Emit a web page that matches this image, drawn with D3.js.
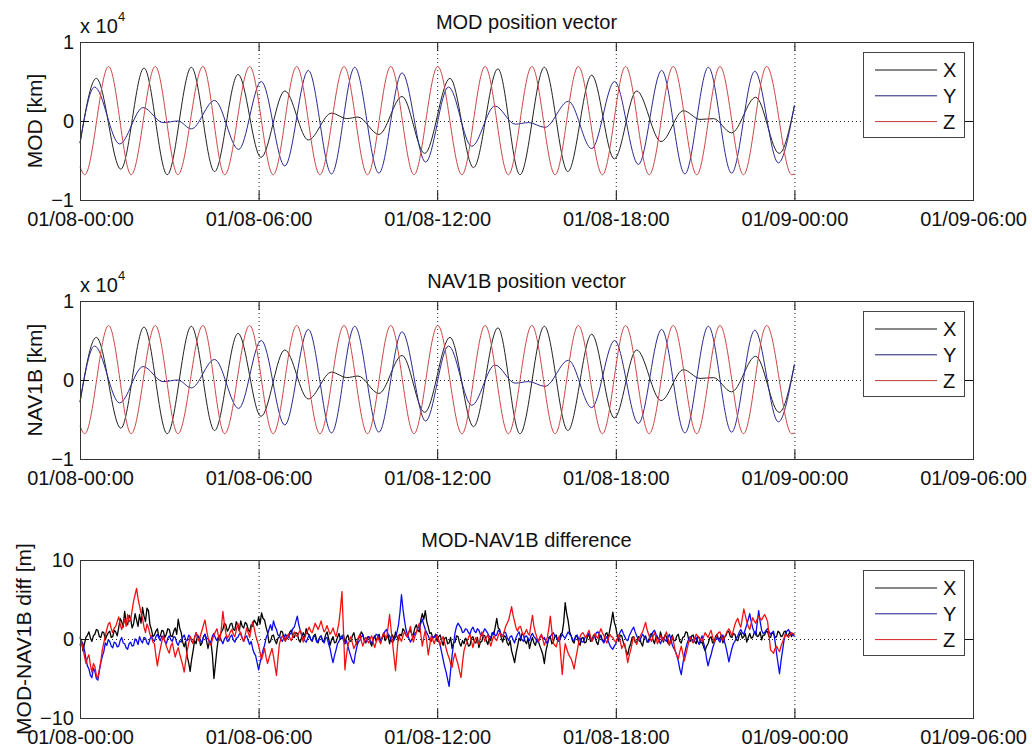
<!DOCTYPE html>
<head>
  <meta charset="utf-8">
  <title>MOD vs NAV1B position</title>
  <script src="https://cdn.jsdelivr.net/npm/d3@7/dist/d3.min.js"></script>
</head>

<style>
  body {
    margin: 0;
    background: #fff;
  }

  svg {
    font-family: "Liberation Sans", Arial, Helvetica, sans-serif;
  }

  .grid {
    stroke: #222;
    stroke-width: 1;
    stroke-dasharray: 1,3;
  }

  .box {
    fill: none;
    stroke: #333;
    stroke-width: 1;
  }
</style>

<body>
  <svg id='fig' width='1032' height='751'></svg>
</body>

<script>

// position curves: [hours since 01/08-00:00, km], read at the turning points
var modX = [[0,-2800],[0.55,5400],[1.37,-6100],[2.15,6700],[2.93,-6800],[3.74,6800],[4.52,-6400],
  [5.31,5900],[6.08,-4600],[6.88,3800],[7.67,-2400],[8.45,1000],[8.96,300],[9.34,500],[10.04,-1700],
  [10.82,3100],[11.58,-4100],[12.43,5400],[13.22,-5900],[14.04,6600],[14.78,-6800],[15.60,6800],
  [16.39,-6400],[17.19,5800],[17.95,-4800],[18.70,3800],[19.52,-2600],[20.27,1300],[20.83,200],
  [21.28,300],[21.89,-1500],[22.70,3000],[23.49,-4100],[24.0,1900]];

var modY = [[0,-2800],[0.49,4300],[1.33,-2900],[2.12,1700],[2.79,-200],[3.29,0],[3.74,-1000],
  [4.52,2600],[5.33,-3600],[6.09,5000],[6.88,-5700],[7.67,6400],[8.45,-6700],[9.23,6800],
  [10.04,-6600],[10.82,6100],[11.61,-5200],[12.38,4300],[13.16,-3200],[13.94,1900],[14.62,-400],
  [15.07,-200],[15.62,-800],[16.41,2500],[17.19,-3500],[17.96,5000],[18.76,-5500],[19.54,6400],
  [20.32,-6700],[21.11,6800],[21.89,-6600],[22.67,6300],[23.46,-5300],[24.0,2000]];

var modZ = [[0,-5800],[0.16,-6800],[0.96,6900],[1.72,-6800],[2.53,6900],[3.29,-6800],[4.13,6900],
  [4.86,-6800],[5.70,6900],[6.49,-6800],[7.28,6900],[8.06,-6800],[8.87,6900],[9.66,-6800],
  [10.44,6900],[11.22,-6800],[12.02,6900],[12.83,-6800],[13.61,6900],[14.39,-6800],[15.18,6900],
  [15.96,-6800],[16.74,6900],[17.55,-6800],[18.33,6900],[19.12,-6800],[19.93,6900],[20.72,-6800],
  [21.50,6900],[22.29,-6800],[23.07,6900],[23.91,-6800],[24.0,-6700]];

// NAV1B panel is indistinguishable from MOD at km scale
var navX = modX, navY = modY, navZ = modZ;

// MOD-NAV1B difference [m], one value every 0.05 h from 00:00 to 24:00 (one row per hour)
var diffStep = 0.05;
var diffX = [
  -0.8,-0.2,-1.5,-0.6,0.2,0.5,0.9,0.1,-0.3,0.4,0.6,1.2,1.1,0.3,0.2,0.9,0.8,-0.1,0.4,0.8,
  1.0,0.2,0.3,1.1,0.9,0.4,1.4,2.6,2.2,1.5,3.5,2.1,1.8,3.0,2.6,1.4,1.9,3.2,2.4,1.6,
  3.1,2.0,4.0,2.9,2.2,3.9,3.6,1.8,1.2,0.3,0.5,1.0,1.3,0.2,0.4,1.1,1.0,0.2,0.6,1.3,
  1.2,0.4,0.3,1.0,1.4,0.6,2.5,1.4,0.8,-0.4,-1.0,-0.3,-2.2,-3.0,-4.1,-2.6,-1.5,-0.2,-0.6,0.5,
  0.2,-0.8,-0.5,0.3,0.6,-0.2,-1.2,-0.3,-0.4,-2.1,-5.0,-3.2,-1.3,0.1,0.4,0.9,1.2,2.0,1.8,1.0,
  1.3,1.9,2.0,1.2,1.1,2.2,1.7,1.0,2.3,1.6,1.4,2.1,1.9,1.2,0.9,1.8,1.6,2.4,2.1,1.7,
  2.8,1.9,3.3,2.6,2.4,1.5,0.8,-0.5,-0.3,0.4,0.5,-0.2,-0.6,0.1,0.3,1.0,0.9,0.2,-0.2,0.5,
  0.4,0.9,1.1,0.3,0.2,0.8,0.7,-0.1,-0.4,0.3,0.8,0.2,1.3,0.7,0.5,0.0,-0.3,0.4,0.6,-0.1,
  -0.5,0.2,0.4,-0.3,-0.2,0.5,0.9,0.1,-0.8,-0.1,0.3,-0.5,-0.4,0.2,0.7,0.0,0.1,0.6,-0.6,0.2,
  0.5,-0.2,-0.3,0.4,0.8,-0.1,-0.7,0.1,0.2,0.9,0.6,-0.2,-0.5,0.2,0.3,-0.4,-0.9,0.0,0.4,-0.3,
  0.2,0.6,-0.4,0.1,0.7,-0.2,0.1,0.5,-0.6,0.2,0.5,-0.1,0.9,0.3,-0.2,0.6,0.4,1.3,1.0,0.5,
  0.3,0.9,1.2,0.5,0.6,1.4,1.8,1.1,0.9,2.4,3.2,2.5,3.6,2.2,1.5,0.7,0.8,0.1,0.2,0.6,
  -0.3,0.3,0.5,-0.2,-0.8,0.1,0.2,-0.6,-0.5,0.2,-1.2,-0.5,-0.4,0.4,0.3,-0.5,-0.9,-0.2,-0.6,0.1,
  -0.2,-0.9,-0.8,0.1,0.3,-0.4,-0.5,0.2,-1.1,-0.4,-0.3,0.5,0.4,-0.2,-0.7,0.1,-0.2,0.8,0.6,1.5,
  2.6,1.4,1.2,0.2,-0.4,0.4,0.3,-0.5,-0.8,-0.2,-1.5,-2.2,-3.0,-1.8,-0.9,0.1,-0.2,0.7,0.5,-0.3,
  -0.6,0.1,-1.2,-0.4,0.2,-0.5,-0.8,0.0,-0.3,-0.9,-1.4,-2.0,-3.1,-1.6,-0.7,0.2,0.3,-0.6,-0.4,0.3,
  0.5,-0.3,-0.2,0.6,0.8,2.1,4.6,3.2,2.3,0.9,0.4,-0.3,-0.5,0.4,0.3,-0.4,-0.8,0.1,0.2,-0.5,
  -0.4,0.3,0.6,-0.3,-0.2,0.5,0.3,-0.4,-0.7,0.2,0.5,-0.2,-0.3,0.6,0.8,0.1,1.2,2.2,3.4,2.1,
  1.5,0.4,-0.3,0.5,0.4,-0.4,-0.8,-1.6,-2.0,-1.1,-0.6,0.2,0.3,-0.4,-0.5,0.3,0.2,-0.5,-0.9,0.1,
  0.4,-0.4,-0.3,0.5,0.7,-0.1,-0.6,0.3,0.2,-0.3,0.9,0.2,-0.4,0.5,0.3,-0.5,-0.7,0.1,0.5,-0.2,
  -0.2,0.4,0.6,-0.3,-0.5,0.2,0.3,0.9,0.8,-0.1,-0.3,0.4,0.5,-0.3,-0.6,0.3,0.2,-0.5,-0.4,-1.0,
  -1.5,-0.9,-0.6,0.1,0.3,-0.5,-0.4,0.3,0.6,-0.1,0.1,0.5,-0.5,0.2,0.4,1.0,0.9,0.3,0.2,0.7,
  0.6,-0.1,-0.2,0.5,0.8,0.1,0.3,0.7,-0.4,0.2,0.7,0.1,0.2,0.8,0.9,0.3,0.4,0.9,-0.1,0.5,
  0.5,1.0,0.9,0.3,0.2,0.8,0.7,0.2,0.3,1.0,0.8,0.3,0.4,0.9,1.0,0.4,0.5,0.9,0.3,0.7,
  0.6];

var diffY = [
  0.2,-0.3,-0.6,-1.4,-2.5,-3.4,-3.8,-4.6,-4.9,-3.7,-4.1,-5.0,-5.2,-4.0,-3.0,-2.2,-1.6,-0.5,-0.8,-0.1,
  -0.3,-0.9,-1.1,-0.4,-0.5,-1.0,-0.9,-0.2,0.2,-0.5,-0.6,-1.1,-1.3,-0.6,-0.4,-0.9,-0.8,0.0,-0.2,-0.7,
  0.3,-0.2,-0.5,0.2,0.1,-0.5,-0.7,0.0,0.4,-0.1,-0.3,0.3,0.6,0.1,-0.2,0.4,0.2,-0.3,-0.6,0.1,
  0.4,-0.1,-0.3,0.3,0.2,-0.5,-0.8,-0.2,-0.4,0.2,0.5,-0.1,-0.2,0.5,0.3,-0.3,-0.5,0.2,0.8,0.3,
  0.2,-0.2,-0.4,0.3,0.6,0.0,0.1,-0.4,-0.3,0.4,0.7,0.1,-0.2,0.3,0.4,-0.2,-0.6,0.0,0.3,-0.3,
  -0.2,0.3,0.5,-0.1,-0.4,0.1,0.2,0.6,0.8,0.1,-0.3,0.2,0.4,-0.2,-0.7,-0.3,-1.2,-1.8,-2.1,-3.0,
  -3.9,-3.0,-2.2,-1.4,-0.8,0.1,0.6,1.2,1.8,1.1,2.3,1.6,1.2,0.5,0.4,-0.1,-0.3,0.2,0.6,0.0,
  0.2,0.6,0.8,1.3,1.5,2.2,2.9,1.8,1.1,0.5,0.3,-0.2,-0.4,0.1,0.5,-0.1,-0.2,0.4,0.3,-0.4,
  -0.3,0.2,0.4,-0.2,-0.5,0.1,0.2,-0.6,-1.2,-2.2,-3.0,-2.1,-1.4,-0.6,-0.3,0.2,0.4,-0.2,-0.6,-0.2,
  -0.9,-1.6,-2.2,-2.8,-3.1,-1.9,-1.0,-0.4,-0.2,0.3,0.5,-0.1,-0.4,0.1,0.3,-0.2,-0.6,0.0,0.2,0.6,
  0.5,0.1,-0.3,0.2,0.6,1.0,1.2,0.6,0.4,-0.1,-0.5,-0.1,0.2,0.9,1.8,3.4,5.6,3.8,2.4,1.2,
  0.6,0.1,-0.4,0.0,0.3,0.7,0.9,1.3,1.6,2.0,2.5,1.8,1.2,0.8,0.4,-0.1,-0.3,0.3,0.2,0.6,
  0.5,-0.2,-0.8,-1.7,-2.6,-3.5,-4.2,-5.1,-6.0,-4.0,-2.1,-0.6,0.8,1.6,2.0,1.7,1.4,0.8,0.9,1.3,
  1.2,0.8,0.6,1.2,1.5,1.0,0.8,1.3,1.1,0.6,0.4,0.9,1.3,1.0,0.7,0.3,0.2,0.7,0.9,0.4,
  0.5,1.1,1.0,0.6,0.3,0.9,0.8,0.2,-0.2,0.3,0.4,-0.1,-0.5,0.2,0.6,0.9,0.2,-0.1,-0.3,0.3,
  0.4,0.0,-0.2,0.4,0.7,0.3,0.1,-0.3,-0.4,0.2,0.5,0.0,0.2,-0.3,-0.6,0.0,0.3,0.6,0.8,0.4,
  0.2,-0.1,-0.3,0.2,0.6,0.3,0.1,0.5,0.9,0.6,0.4,-0.1,-0.2,0.3,0.5,0.0,0.1,-0.3,-0.4,0.1,
  0.3,0.5,0.7,0.2,-0.2,0.1,0.4,0.8,0.9,0.5,0.2,-0.2,-0.5,0.0,0.3,-0.3,-0.8,-1.1,-1.3,-0.9,
  -0.6,0.0,0.4,0.9,1.2,0.7,0.3,-0.1,-0.2,0.4,0.8,1.2,1.5,0.9,0.4,0.0,-0.3,0.2,0.6,0.3,
  0.2,-0.2,-0.4,0.1,0.5,0.9,1.1,0.6,0.3,-0.2,-0.6,-0.1,0.2,-0.1,-0.3,0.2,0.6,0.0,-0.8,-1.2,
  -1.5,-2.1,-2.8,-3.8,-4.5,-3.2,-2.1,-1.2,-0.5,0.0,0.3,-0.1,-0.4,-0.1,0.2,-0.3,-0.7,-0.1,0.4,-0.5,
  -1.2,-2.5,-3.4,-2.6,-2.0,-1.2,-0.6,-0.1,0.3,-0.1,-0.4,0.1,0.5,-0.3,-1.0,-1.9,-2.9,-2.0,-1.2,-0.6,
  -0.3,0.1,0.4,0.9,1.2,0.8,0.6,1.2,1.8,2.5,3.2,2.2,1.4,0.9,0.5,2.0,3.6,2.2,1.1,0.7,
  0.8,1.1,1.3,0.9,0.6,0.8,1.0,-0.3,-1.8,-3.1,-4.4,-2.8,-1.5,-0.2,0.7,1.0,1.2,0.8,0.5,0.6,
  0.3];

var diffZ = [
  0.3,-0.4,-1.2,-2.2,-3.1,-2.4,-2.0,-3.3,-4.2,-3.1,-3.5,-4.6,-5.0,-3.9,-2.8,-1.4,-0.5,0.4,1.2,1.9,
  2.1,1.3,0.8,1.4,1.6,2.2,2.8,1.9,1.2,1.8,2.5,1.6,3.1,2.2,2.4,3.6,4.8,5.6,6.4,5.1,
  4.2,3.3,2.6,1.5,0.8,1.9,1.4,0.6,0.2,-0.4,-0.6,-2.1,-3.4,-2.2,-1.2,-0.3,0.4,-0.2,-0.9,-1.4,
  -1.8,-0.9,-0.5,-1.4,-2.3,-1.6,-1.1,-1.9,-2.6,-3.3,-4.2,-2.8,-1.5,-0.6,0.3,-0.1,-0.6,0.2,0.8,0.2,
  -0.3,0.5,1.1,1.8,2.4,1.2,0.2,-0.4,-0.8,0.0,0.5,0.9,1.3,0.4,-0.2,1.4,3.5,1.9,0.7,0.1,
  0.4,0.9,1.2,0.6,0.3,1.1,2.0,1.2,0.6,0.1,-0.3,0.5,1.4,0.8,0.2,1.3,2.2,1.4,0.5,-0.2,
  -0.8,-1.7,-2.6,-1.9,-1.2,-2.3,-3.1,-2.4,-1.8,-1.2,-2.2,-3.4,-4.6,-2.5,-0.6,0.0,0.4,0.1,-0.3,0.3,
  0.6,0.1,-0.2,0.4,0.9,0.5,0.3,0.8,1.1,0.4,-0.4,0.2,0.7,1.1,1.5,1.0,0.8,1.4,2.0,1.6,
  1.2,1.7,2.3,1.5,0.9,1.2,1.7,1.1,0.6,0.9,1.4,0.8,0.3,1.1,2.1,3.8,6.0,1.2,-3.9,-2.1,
  -0.8,-0.2,0.3,-0.5,-1.2,-0.8,-0.4,0.2,0.6,-0.2,-0.9,-0.3,0.2,-0.2,-0.5,0.1,0.4,-0.4,-1.1,-0.4,
  0.3,-0.2,-0.6,0.2,0.8,0.4,0.1,1.5,3.1,1.2,-0.5,-2.3,-4.0,-1.6,0.5,0.1,-0.3,0.4,0.9,0.5,
  0.2,0.9,1.6,0.5,-0.4,0.3,0.8,1.5,2.0,0.6,-0.9,0.2,1.1,-0.4,-2.0,-0.8,0.4,-0.1,-0.6,0.0,
  0.5,-0.2,-0.8,-0.1,0.3,-0.5,-1.2,-1.9,-2.4,-3.1,-3.6,-2.5,-1.8,-2.6,-3.2,-4.1,-4.9,-3.0,-1.5,-0.8,
  -0.4,0.2,0.6,-0.3,-1.1,-0.3,0.2,-0.3,-0.7,0.2,0.9,0.3,-0.3,0.2,0.5,-0.2,-0.9,-0.2,0.4,0.0,
  -0.2,0.4,0.8,0.5,0.3,0.9,1.6,2.0,2.4,3.2,4.1,3.0,2.2,1.4,1.0,1.5,1.6,0.9,0.4,0.8,
  1.2,0.7,0.5,1.8,3.0,1.6,0.8,0.2,-0.3,0.2,0.6,-0.1,-0.8,-0.2,0.2,1.3,2.9,1.1,-0.5,-0.8,
  -1.0,-0.2,0.4,-2.1,-4.5,-2.3,-0.6,-1.2,-1.8,-2.2,-2.5,-3.1,-3.8,-2.6,-1.6,-0.5,0.3,0.7,0.8,0.4,
  0.2,0.7,1.1,0.3,-0.3,0.2,0.7,0.3,0.1,0.8,1.3,0.8,0.4,-0.1,-0.5,0.1,0.6,0.3,0.2,-0.2,
  -0.4,0.1,0.5,-0.3,-1.2,-0.8,-0.6,-1.8,-3.0,-2.1,-1.4,-0.5,0.3,-0.2,-0.7,-0.1,0.2,0.6,0.9,1.5,
  2.1,1.2,0.6,0.1,-0.3,0.3,0.8,0.2,-0.6,-0.1,0.4,0.1,-0.2,0.4,0.9,0.1,-0.8,-0.3,0.3,-0.6,
  -1.6,-2.1,-2.5,-1.6,-0.9,-1.8,-2.8,-2.0,-1.2,-0.4,0.2,-0.2,-0.5,0.1,0.6,0.4,0.1,-0.1,-0.3,0.3,
  0.8,0.5,0.2,0.7,1.1,0.3,-0.4,0.1,0.5,0.8,0.9,0.3,-0.2,0.2,0.6,1.0,1.3,0.9,0.4,1.1,
  1.8,2.3,2.6,1.9,1.5,2.6,3.8,3.0,2.2,1.6,1.2,2.0,2.7,2.3,2.0,2.5,2.9,2.6,2.4,2.8,
  3.1,2.7,2.2,0.4,-1.4,-1.6,-1.8,-1.2,-0.9,-1.3,-1.6,-0.9,-0.4,0.1,0.6,0.4,0.2,0.5,0.8,0.7,
  0.5];

var xTickHours = [0, 6, 12, 18, 24, 30];
var legendNames = ['X', 'Y', 'Z'];

var left = 80,
    right = 973,
    plot_h = 158,
    tick_len = 9,
    font_px = 20;

var day0 = Date.UTC(2000, 0, 8);
function toDate(h) { return new Date(day0 + h * 3600 * 1000); }

function withTimes(vals) {
  return vals.map(function(v, i) { return [i * diffStep, v]; });
}

var x = d3.scaleUtc()
  .domain([toDate(0), toDate(30)])
  .range([left, right]);

var xTicks = xTickHours.map(toDate);
var fmtTime = d3.utcFormat('%m/%d-%H:%M');

var svg = d3.select('#fig');

var panels = [
  {title: 'MOD position vector', ylabel: 'MOD [km]', top: 42, domain: [-1e4, 1e4],
   ticks: [-1e4, 0, 1e4], div: 1e4, exp: true, ylabel_x: 42, width: 1, curve: d3.curveMonotoneX,
   series: [modX, modY, modZ], colors: ['#222', '#2a2a92', '#cc4646'],
   legend_colors: ['#111', '#20207a', '#c03838']},
  {title: 'NAV1B position vector', ylabel: 'NAV1B [km]', top: 301, domain: [-1e4, 1e4],
   ticks: [-1e4, 0, 1e4], div: 1e4, exp: true, ylabel_x: 42, width: 1, curve: d3.curveMonotoneX,
   series: [navX, navY, navZ], colors: ['#222', '#2a2a92', '#cc4646'],
   legend_colors: ['#111', '#20207a', '#c03838']},
  {title: 'MOD-NAV1B difference', ylabel: 'MOD-NAV1B diff [m]', top: 560, domain: [-10, 10],
   ticks: [-10, 0, 10], div: 1, exp: false, ylabel_x: 31, width: 1.3, curve: d3.curveLinear,
   series: [withTimes(diffX), withTimes(diffY), withTimes(diffZ)], colors: ['#000', '#0a0af0', '#f41010'],
   legend_colors: ['#111', '#1a1a8a', '#d02020']}
];

panels.forEach(draw_panel);

function draw_panel(p) {
  var top = p.top, bottom = p.top + plot_h;
  var y = d3.scaleLinear().domain(p.domain).range([bottom, top]);
  var g = svg.append('g');

  // dotted grid
  g.selectAll('line.gx')
    .data(xTicks)
    .enter().append('line')
    .attr('class', 'grid')
    .attr('x1', function(d) { return x(d) + 0.5; })
    .attr('x2', function(d) { return x(d) + 0.5; })
    .attr('y1', top).attr('y2', bottom);

  g.selectAll('line.gy')
    .data(p.ticks)
    .enter().append('line')
    .attr('class', 'grid')
    .attr('x1', left).attr('x2', right)
    .attr('y1', function(d) { return y(d) + 0.5; })
    .attr('y2', function(d) { return y(d) + 0.5; });

  // data
  var line = d3.line()
    .x(function(d) { return x(toDate(d[0])); })
    .y(function(d) { return y(d[1]); })
    .curve(p.curve);

  p.series.forEach(function(s, i) {
    g.append('path')
      .datum(s)
      .attr('fill', 'none')
      .attr('stroke', p.colors[i])
      .attr('stroke-width', p.width)
      .attr('stroke-linejoin', 'round')
      .attr('d', line);
  });

  // axes, MATLAB style: inward ticks on all four sides
  var fmtY = d3.format('d');
  var axes = [
    g.append('g').attr('transform', 'translate(0,' + bottom + ')')
      .call(d3.axisBottom(x).tickValues(xTicks).tickFormat(fmtTime).tickSize(-tick_len).tickPadding(12)),
    g.append('g').attr('transform', 'translate(0,' + top + ')')
      .call(d3.axisTop(x).tickValues(xTicks).tickFormat('').tickSize(-tick_len)),
    g.append('g').attr('transform', 'translate(' + left + ',0)')
      .call(d3.axisLeft(y).tickValues(p.ticks).tickFormat(function(d) { return fmtY(d / p.div); })
        .tickSize(-tick_len).tickPadding(6)),
    g.append('g').attr('transform', 'translate(' + right + ',0)')
      .call(d3.axisRight(y).tickValues(p.ticks).tickFormat('').tickSize(-tick_len))
  ];
  axes.forEach(function(a) {
    a.select('.domain').remove();
    a.selectAll('line').attr('stroke', '#111');
    a.selectAll('text').attr('font-size', font_px).attr('fill', '#111')
      .attr('font-family', '"Liberation Sans", Arial, sans-serif');
  });

  g.append('rect')
    .attr('class', 'box')
    .attr('x', left + 0.5).attr('y', top + 0.5)
    .attr('width', right - left).attr('height', plot_h);

  // legend
  var lg = g.append('g').attr('transform', 'translate(863,' + (top + 10) + ')');
  lg.append('rect')
    .attr('x', 0.5).attr('y', 0.5)
    .attr('width', 101).attr('height', 85)
    .attr('fill', '#fff').attr('stroke', '#444');
  legendNames.forEach(function(name, i) {
    var ly = 18 + i * 25.8;
    lg.append('line')
      .attr('x1', 12).attr('x2', 74)
      .attr('y1', ly).attr('y2', ly)
      .attr('stroke', p.legend_colors[i]).attr('stroke-width', 1);
    lg.append('text')
      .attr('x', 80).attr('y', ly).attr('dy', '0.36em')
      .attr('font-size', font_px).attr('fill', '#111')
      .text(name);
  });

  // title and labels
  g.append('text')
    .attr('x', (left + right) / 2).attr('y', top - 13)
    .attr('text-anchor', 'middle')
    .attr('font-size', font_px).attr('fill', '#111')
    .text(p.title);

  g.append('text')
    .attr('transform', 'translate(' + p.ylabel_x + ',' + (top + plot_h / 2) + ') rotate(-90)')
    .attr('text-anchor', 'middle')
    .attr('font-size', 21).attr('fill', '#111')
    .text(p.ylabel);

  if (p.exp) {
    g.append('text')
      .attr('x', left).attr('y', top - 9)
      .attr('font-size', font_px).attr('fill', '#111')
      .text('x 10');
    g.append('text')
      .attr('x', left + 38).attr('y', top - 21)
      .attr('font-size', 13).attr('fill', '#111')
      .text('4');
  }
}

</script>
